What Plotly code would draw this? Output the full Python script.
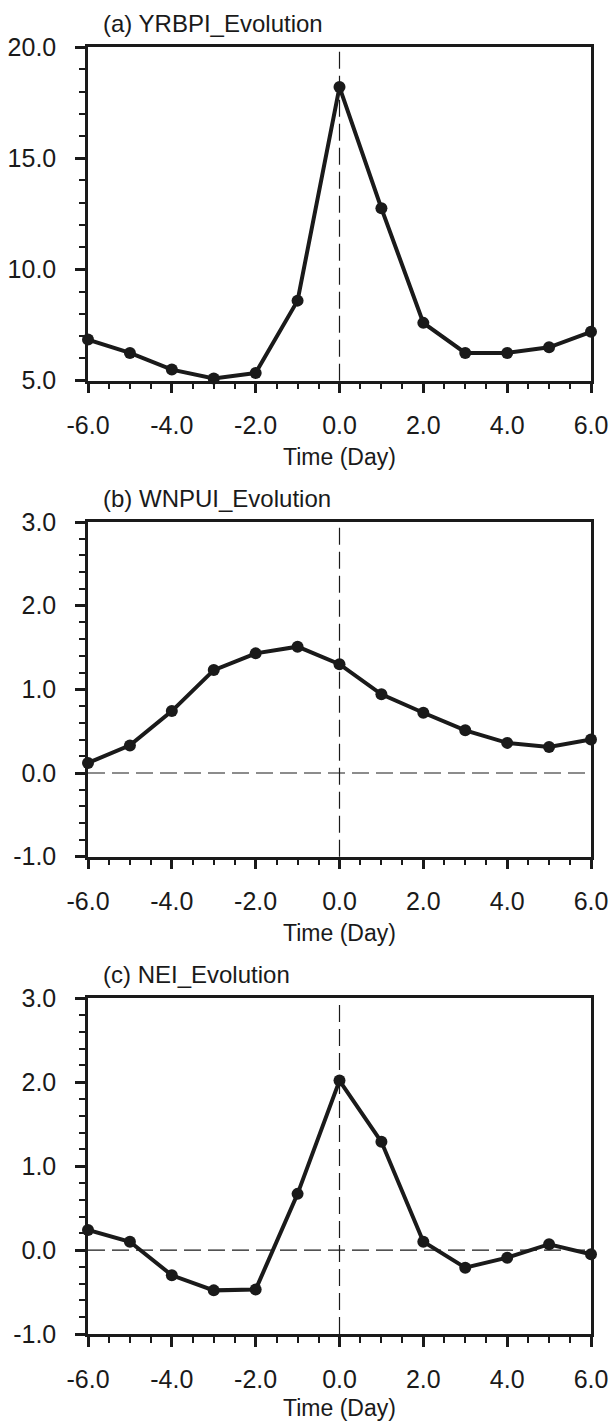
import plotly.graph_objects as go

days = [-6, -5, -4, -3, -2, -1, 0, 1, 2, 3, 4, 5, 6]
yrbpi = [6.85, 6.25, 5.5, 5.1, 5.35, 8.6, 18.2, 12.75, 7.6, 6.25, 6.25, 6.5, 7.2]
wnpui = [0.12, 0.33, 0.74, 1.23, 1.43, 1.51, 1.30, 0.94, 0.72, 0.51, 0.36, 0.31, 0.40]
nei = [0.24, 0.10, -0.30, -0.48, -0.47, 0.67, 2.02, 1.29, 0.10, -0.21, -0.09, 0.07, -0.05]

x_tick_vals = [-6, -4, -2, 0, 2, 4, 6]
x_tick_text = ["-6.0", "-4.0", "-2.0", "0.0", "2.0", "4.0", "6.0"]
ya_tick_vals = [5, 10, 15, 20]
ya_tick_text = ["5.0", "10.0", "15.0", "20.0"]
ybc_tick_vals = [-1, 0, 1, 2, 3]
ybc_tick_text = ["-1.0", "0.0", "1.0", "2.0", "3.0"]

titles = ["(a) YRBPI_Evolution", "(b) WNPUI_Evolution", "(c) NEI_Evolution"]
series = [yrbpi, wnpui, nei]
y_ranges = [[5, 20], [-1, 3], [-1, 3]]
y_tickvals = [ya_tick_vals, ybc_tick_vals, ybc_tick_vals]
y_ticktext = [ya_tick_text, ybc_tick_text, ybc_tick_text]
y_minor = [1, 0.2, 0.2]
zero_line = [False, True, True]
x_title = "Time (Day)"

ink = "#1a1a1a"
font_family = "Liberation Sans, Arial, Helvetica, sans-serif"
domains = [[0.7407, 1.0], [0.3709, 0.6309], [0.0, 0.2608]]

fig = go.Figure()
shapes = []
annotations = []
for i in range(3):
    n = "" if i == 0 else str(i + 1)
    xa = "x" + n
    ya = "y" + n
    fig.add_trace(go.Scatter(
        x=days, y=series[i], xaxis=xa, yaxis=ya, mode="lines+markers",
        line=dict(color=ink, width=4),
        marker=dict(color=ink, size=12),
        showlegend=False, cliponaxis=False, hoverinfo="skip",
    ))
    fig.layout["xaxis" + n] = dict(
        domain=[0, 1], anchor=ya, range=[-6, 6],
        tickmode="array", tickvals=x_tick_vals, ticktext=x_tick_text,
        ticks="outside", ticklen=10, tickwidth=2.5, tickcolor=ink,
        minor=dict(tickmode="linear", tick0=-6, dtick=0.5, ticks="outside", ticklen=6,
                   tickwidth=2, tickcolor=ink),
        showline=True, linecolor=ink, linewidth=2.5, mirror=True, automargin=False,
        showgrid=False, zeroline=False, ticklabelstandoff=11,
        tickfont=dict(size=25, color=ink, family=font_family),
        title=dict(text=x_title, font=dict(size=23, color=ink, family=font_family), standoff=11),
    )
    fig.layout["yaxis" + n] = dict(
        domain=domains[i], anchor=xa, range=y_ranges[i],
        tickmode="array", tickvals=y_tickvals[i], ticktext=y_ticktext[i],
        ticks="outside", ticklen=10, tickwidth=2.5, tickcolor=ink,
        minor=dict(tickmode="linear", tick0=y_ranges[i][0], dtick=y_minor[i], ticks="outside",
                   ticklen=6, tickwidth=2, tickcolor=ink),
        showline=True, linecolor=ink, linewidth=2.5, mirror=True, automargin=False,
        showgrid=False, zeroline=False, ticklabelstandoff=14,
        tickfont=dict(size=25, color=ink, family=font_family),
    )
    shapes.append(dict(type="line", xref=xa, yref=ya + " domain", x0=0, x1=0, y0=0, y1=1,
                       line=dict(color=ink, width=1.2, dash="17px,7px"), layer="below"))
    if zero_line[i]:
        shapes.append(dict(type="line", xref=xa + " domain", yref=ya, x0=0, x1=1, y0=0, y1=0,
                           line=dict(color=ink, width=1.2, dash="17px,7px"), layer="below"))
    annotations.append(dict(text=titles[i], xref=xa + " domain", yref=ya + " domain",
                            x=0.026, y=1, xanchor="left", yanchor="bottom", yshift=8,
                            showarrow=False,
                            font=dict(size=24, color=ink, family=font_family)))

fig.update_layout(
    width=611, height=1421,
    margin=dict(l=88, r=20, t=47, b=87, autoexpand=False),
    paper_bgcolor="white", plot_bgcolor="white",
    shapes=shapes, annotations=annotations,
)
fig.write_html("out.html", config={"displayModeBar": False},
               post_script="document.body.style.margin='0';document.body.style.overflow='hidden';")
